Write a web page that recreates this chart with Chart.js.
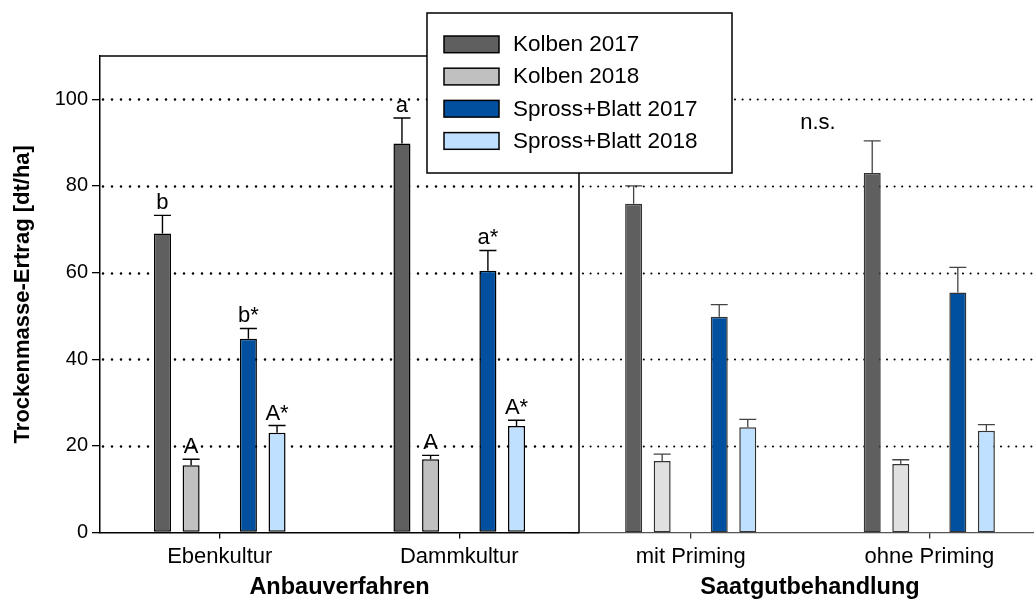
<!DOCTYPE html>
<html><head><meta charset="utf-8">
<script src="https://cdn.jsdelivr.net/npm/chart.js@4.4.1/dist/chart.umd.min.js"></script>
<style>
html,body{margin:0;padding:0;background:#fff;overflow:hidden;width:1034px;height:603px;}
#wrap{position:relative;width:1034px;height:603px;overflow:hidden;background:#fff;}
canvas{position:absolute;top:0;left:0;}
</style></head><body>
<div id="wrap">
<canvas id="cRight" width="1060" height="603"></canvas>
<canvas id="cLeft" width="1034" height="603"></canvas>
</div>
<script>
// ---- data ----
const categories = ['Ebenkultur','Dammkultur','mit Priming','ohne Priming'];
const groupTitles = ['Anbauverfahren','Saatgutbehandlung'];
const seriesNames = ['Kolben 2017','Kolben 2018','Spross+Blatt 2017','Spross+Blatt 2018'];
const kolben2017 = [69.0, 89.8, 75.9, 83.0];
const kolben2017Err = [4.2, 5.9, 4.1, 7.4];
const kolben2018 = [15.5, 16.9, 16.5, 15.8];
const kolben2018Err = [1.4, 0.9, 1.6, 1.0];
const spross2017 = [44.7, 60.4, 49.8, 55.4];
const spross2017Err = [2.4, 4.7, 2.8, 5.8];
const spross2018 = [23.0, 24.6, 24.3, 23.5];
const spross2018Err = [1.7, 1.3, 1.8, 1.4];
const kolben2017Letters = ['b','a','',''];
const kolben2018Letters = ['A','A','',''];
const spross2017Letters = ['b*','a*','',''];
const spross2018Letters = ['A*','A*','',''];
const rightNote = 'n.s.';
const yTicks = [0,20,40,60,80,100];
const yTitle = 'Trockenmasse-Ertrag [dt/ha]';

const FONT = "'Liberation Sans', Arial, Helvetica, sans-serif";
const colors = ['#5f5f5f','#c0c0c0','#00509f','#c0e0ff'];

function pick(arr, idx){ return idx.map(i => arr[i]); }

function makeDatasets(idx, k18Color, bColor){
  const bw = 1.5;
  return [
    {label: seriesNames[0], data: pick(kolben2017, idx), errors: pick(kolben2017Err, idx), letters: pick(kolben2017Letters, idx), backgroundColor: colors[0], borderColor: bColor, borderWidth: bw, borderSkipped: false},
    {label: seriesNames[1], data: pick(kolben2018, idx), errors: pick(kolben2018Err, idx), letters: pick(kolben2018Letters, idx), backgroundColor: k18Color, borderColor: bColor, borderWidth: bw, borderSkipped: false},
    {label: '', data: idx.map(() => null), backgroundColor: 'rgba(0,0,0,0)', borderWidth: 0},
    {label: seriesNames[2], data: pick(spross2017, idx), errors: pick(spross2017Err, idx), letters: pick(spross2017Letters, idx), backgroundColor: colors[2], borderColor: bColor, borderWidth: bw, borderSkipped: false},
    {label: seriesNames[3], data: pick(spross2018, idx), errors: pick(spross2018Err, idx), letters: pick(spross2018Letters, idx), backgroundColor: colors[3], borderColor: bColor, borderWidth: bw, borderSkipped: false}
  ];
}

const dotGrid = {
  id: 'dotGrid',
  beforeDatasetsDraw(chart, args, o){
    const {ctx, chartArea: a, scales: {y}} = chart;
    ctx.save();
    ctx.strokeStyle = '#000'; ctx.lineWidth = o.width; ctx.lineCap = 'round';
    ctx.setLineDash([0, o.gap]);
    yTicks.filter(v => v > 0).forEach(v => {
      const py = Math.round(y.getPixelForValue(v)) + 0.5;
      ctx.beginPath(); ctx.moveTo(Math.max(a.left, o.from) + o.start, py); ctx.lineTo(a.right, py); ctx.stroke();
    });
    ctx.restore();
  }
};

const errorBars = {
  id: 'errorBars',
  afterDatasetsDraw(chart, args, o){
    const {ctx, scales: {y}} = chart;
    chart.data.datasets.forEach((ds, i) => {
      if (!ds.errors) return;
      const meta = chart.getDatasetMeta(i);
      meta.data.forEach((bar, j) => {
        const v = ds.data[j]; if (v == null) return;
        const top = y.getPixelForValue(v + ds.errors[j]);
        const half = bar.width / 2;
        ctx.save();
        ctx.strokeStyle = o.color; ctx.lineWidth = o.width;
        ctx.beginPath();
        ctx.moveTo(bar.x, bar.y); ctx.lineTo(bar.x, top);
        ctx.moveTo(bar.x - half, top); ctx.lineTo(bar.x + half, top);
        ctx.stroke();
        if (ds.letters && ds.letters[j]) {
          ctx.fillStyle = '#000';
          ctx.font = '22px ' + FONT;
          ctx.textAlign = 'center'; ctx.textBaseline = 'alphabetic';
          ctx.fillText(ds.letters[j], bar.x, top - 6);
        }
        ctx.restore();
      });
    });
  }
};

const frame = {
  id: 'frame',
  afterDraw(chart, args, o){
    if (!o.on) return;
    const {ctx, chartArea: a} = chart;
    ctx.save();
    ctx.strokeStyle = '#000'; ctx.lineWidth = 1.5;
    ctx.beginPath();
    ctx.moveTo(a.left, a.top); ctx.lineTo(a.right, a.top); ctx.lineTo(a.right, a.bottom);
    ctx.stroke();
    ctx.restore();
  }
};

const legendBox = {
  id: 'legendBox',
  afterDraw(chart, args, o){
    if (!o.on) return;
    const ctx = chart.ctx;
    ctx.save();
    ctx.fillStyle = '#fff'; ctx.fillRect(427, 13, 305, 160);
    ctx.strokeStyle = '#000'; ctx.lineWidth = 1.5; ctx.strokeRect(427, 13, 305, 160);
    ctx.font = '22.5px ' + FONT; ctx.textBaseline = 'middle'; ctx.textAlign = 'left';
    seriesNames.forEach((name, i) => {
      const ty = 36 + i * 32.2;
      ctx.fillStyle = colors[i]; ctx.fillRect(444, ty, 55, 16.7);
      ctx.strokeStyle = '#000'; ctx.lineWidth = 1.5; ctx.strokeRect(444, ty, 55, 16.7);
      ctx.fillStyle = '#000'; ctx.fillText(name, 513, ty + 9);
    });
    ctx.restore();
  }
};

const note = {
  id: 'note',
  afterDraw(chart, args, o){
    if (!o.text) return;
    const {ctx, scales: {x}} = chart;
    const cx = (x.getPixelForValue(0) + x.getPixelForValue(1)) / 2 + 8;
    ctx.save();
    ctx.fillStyle = '#000'; ctx.font = '22px ' + FONT; ctx.textAlign = 'center'; ctx.textBaseline = 'alphabetic';
    ctx.fillText(o.text, cx, 129);
    ctx.restore();
  }
};

function xScale(title, axisColor, axisW, tickColor){
  return {
    type: 'category', offset: true,
    grid: {display: true, drawOnChartArea: false, drawTicks: true, tickLength: 6, color: tickColor, offset: false, lineWidth: 1.3},
    border: {display: true, color: axisColor, width: axisW},
    ticks: {font: {size: 22, family: FONT}, color: '#000', padding: 5, maxRotation: 0, autoSkip: false},
    title: {display: true, text: title, font: {size: 23.5, weight: 'bold', family: FONT}, color: '#000', padding: {top: 0, bottom: 1}},
    afterFit(s){ s.height = 70.5; }
  };
}

function yScale(show){
  return {
    display: show, min: 0, max: 110,
    afterBuildTicks(s){ s.ticks = yTicks.map(v => ({value: v})); },
    grid: {drawOnChartArea: false, drawTicks: true, tickLength: 8, color: '#000', lineWidth: 1.3},
    border: {display: true, color: '#000', width: 1.5},
    ticks: {font: {size: 20, family: FONT}, color: '#000', padding: 4},
    title: {display: true, text: yTitle, font: {size: 22, weight: 'bold', family: FONT}, color: '#000', padding: {top: 10, bottom: 0}},
    afterFit(s){ if (show) s.width = 100; }
  };
}

const barOpts = {categoryPercentage: 0.598, barPercentage: 0.595};

// Right panel (underneath)
new Chart(document.getElementById('cRight'), {
  type: 'bar',
  data: {labels: categories.slice(2, 4), datasets: makeDatasets([2, 3], '#e0e0e0', '#333')},
  options: {
    responsive: false, animation: false, events: [],
    layout: {padding: {left: 571.4, top: 56, right: 11.4, bottom: 0}},
    datasets: {bar: barOpts},
    plugins: {
      legend: {display: false}, tooltip: {enabled: false},
      dotGrid: {width: 2.1, gap: 7.6, from: 580, start: 3},
      errorBars: {color: '#444', width: 1.3},
      frame: {on: false}, legendBox: {on: false}, note: {text: rightNote}
    },
    scales: {x: xScale(groupTitles[1], '#555', 1.2, '#333'), y: yScale(false)}
  },
  plugins: [dotGrid, errorBars, frame, legendBox, note]
});

// Left panel (on top)
new Chart(document.getElementById('cLeft'), {
  type: 'bar',
  data: {labels: categories.slice(0, 2), datasets: makeDatasets([0, 1], colors[1], '#000')},
  options: {
    responsive: false, animation: false, events: [],
    layout: {padding: {left: 0, top: 56, right: 455, bottom: 0}},
    datasets: {bar: barOpts},
    plugins: {
      legend: {display: false}, tooltip: {enabled: false},
      dotGrid: {width: 2.6, gap: 9, from: 0, start: 3},
      errorBars: {color: '#000', width: 1.4},
      frame: {on: true}, legendBox: {on: true}, note: {text: ''}
    },
    scales: {x: xScale(groupTitles[0], '#000', 1.5, '#000'), y: yScale(true)}
  },
  plugins: [dotGrid, errorBars, frame, legendBox, note]
});
</script>
</body></html>
